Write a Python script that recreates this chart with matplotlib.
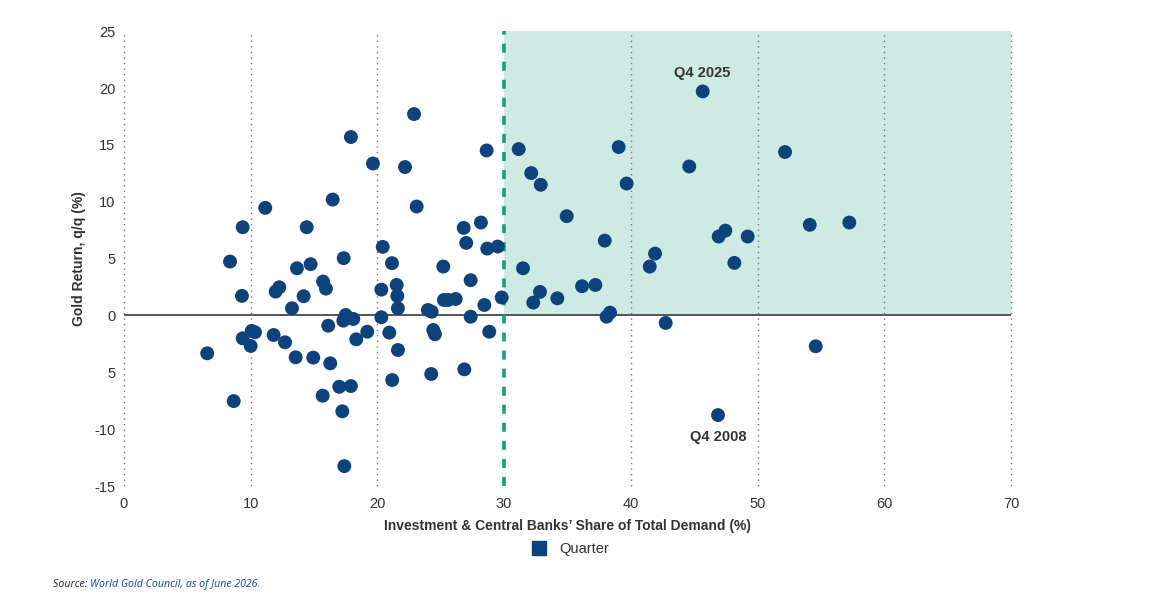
import matplotlib
matplotlib.use("Agg")
import matplotlib.pyplot as plt
from matplotlib.lines import Line2D

plt.rcParams['font.family'] = ['Liberation Sans', 'DejaVu Sans']

# investment & central banks' share of total demand (%), quarterly gold return (%)
share = [6.57, 8.37, 8.66, 9.37, 9.31, 9.37, 10.08, 10.34, 10.00, 11.15,
         11.81, 11.97, 12.26, 12.71, 13.26, 13.65, 13.55, 14.18, 14.42, 14.73,
         14.94, 15.71, 15.94, 15.68, 16.12, 16.28, 16.47, 16.99, 17.34, 17.23,
         17.39, 17.50, 17.31, 18.10, 17.91, 17.91, 18.33, 19.20, 19.65, 20.42,
         20.31, 20.31, 20.94, 21.15, 21.17, 21.52, 21.57, 21.62, 21.62, 22.18,
         22.89, 23.10, 23.99, 24.28, 24.41, 24.54, 24.25, 25.20, 25.25, 25.59,
         26.18, 26.81, 27.01, 26.86, 27.36, 27.36, 28.17, 28.44, 28.62, 28.67,
         28.83, 29.49, 29.81,
         31.15, 32.14, 32.89, 34.94, 31.49, 32.83, 32.30, 34.20, 36.15, 37.20,
         37.94, 38.09, 38.36, 39.04, 39.67, 41.49, 41.91, 42.75, 44.61, 45.67,
         46.93, 47.46, 48.17, 49.22, 46.88, 52.17, 54.12, 57.24, 54.59]
ret = [-3.33, 4.74, -7.53, 7.76, 1.72, -2.01, -1.36, -1.48, -2.68, 9.46,
       -1.72, 2.10, 2.48, -2.36, 0.63, 4.15, -3.68, 1.69, 7.76, 4.51,
       -3.71, 2.98, 2.36, -7.06, -0.90, -4.21, 10.19, -6.27, 5.04, -8.43,
       -13.25, 0.04, -0.46, -0.31, 15.69, -6.21, -2.10, -1.43, 13.36, 6.03,
       2.27, -0.16, -1.51, 4.60, -5.68, 2.68, 1.72, 0.63, -3.04, 13.05,
       17.71, 9.58, 0.48, 0.33, -1.28, -1.65, -5.15, 4.30, 1.36, 1.36,
       1.45, 7.70, 6.38, -4.74, 3.10, -0.11, 8.17, 0.92, 14.51, 5.88,
       -1.43, 6.06, 1.58,
       14.63, 12.52, 11.49, 8.73, 4.15, 2.07, 1.13, 1.51, 2.57, 2.68,
       6.58, -0.11, 0.25, 14.81, 11.60, 4.30, 5.44, -0.66, 13.10, 19.70,
       6.94, 7.46, 4.62, 6.94, -8.76, 14.37, 7.97, 8.17, -2.71]

x_ticks = [0, 10, 20, 30, 40, 50, 60, 70]
y_ticks = [25, 20, 15, 10, 5, 0, -5, -10, -15]
y_tick_labels = ["25", "20", "15", "10", "5", "0", "5", "-10", "-15"]
threshold = 30
callouts = [("Q4 2025", 45.67, 19.70), ("Q4 2008", 46.88, -8.76)]

NAVY = "#0e427c"
TXT = "#333333"
SRC_FONT = ["Noto Sans", "DejaVu Sans"]

fig = plt.figure(figsize=(11.52, 5.99), dpi=100)
ax = fig.add_axes([0.1076, 0.1886, 0.77, 0.7594])

ax.set_xlim(0, 70)
ax.set_ylim(-15, 25)

# shaded "high share" zone and threshold
ax.fill_between([threshold, 70], 0, 25, color="#cdebe2", lw=0, zorder=0)
ax.axvline(threshold, color="#14a07b", lw=2.6, ls=(0, (2.5, 2.5)), zorder=2)

for xv in x_ticks:
    if xv != threshold:
        ax.axvline(xv, color="#777777", lw=1.0, ls=(0, (1, 3)), zorder=1,
                   clip_on=False)
ax.axhline(0, color="#555555", lw=1.4, zorder=1)

ax.scatter(share, ret, s=100, color=NAVY, edgecolors="none", zorder=3)

for label, xv, yv in callouts:
    dy = 1.6 if yv > 0 else -1.9
    ax.text(xv, yv + dy, label, ha="center", va="center", fontsize=10.5,
            color=TXT, fontweight="bold", zorder=4)

for s in ax.spines.values():
    s.set_visible(False)
ax.set_xticks(x_ticks)
ax.set_yticks(y_ticks)
ax.set_yticklabels(y_tick_labels)
ax.tick_params(length=0, labelsize=10.5, colors=TXT, pad=6)
ax.tick_params(axis="x", pad=8)

ax.set_ylabel("Gold Return, q/q (%)", fontsize=10, color=TXT, labelpad=6,
              fontweight="bold")
ax.set_xlabel("Investment & Central Banks\u2019 Share of Total Demand (%)",
              fontsize=10, color=TXT, labelpad=6, fontweight="bold")

handle = Line2D([], [], marker="s", ls="none", color=NAVY, markersize=10)
fig.legend([handle], ["Quarter"], loc="center", bbox_to_anchor=(0.492, 0.084),
           frameon=False, fontsize=10.5, handletextpad=0.4, labelcolor=TXT)

# source line: grey lead-in, blue body
src = fig.text(0.046, 0.025, "Source: ", fontsize=7.6, style="italic",
               color=TXT, va="center", family=SRC_FONT)
ax.annotate("World Gold Council, as of June 2026.", xy=(1, 0.5),
            xycoords=src, va="center", ha="left", fontsize=7.6,
            style="italic", color="#1f4fa0", family=SRC_FONT,
            annotation_clip=False)

fig.savefig("out.png", dpi=100)
